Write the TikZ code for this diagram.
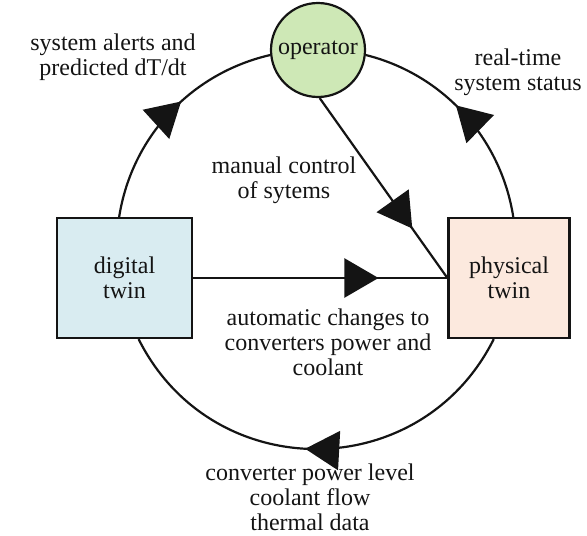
\documentclass[tikz,border=0pt]{standalone}
\usepackage{fontspec}
\setmainfont{Liberation Serif}
\usetikzlibrary{arrows.meta,decorations.markings}
\definecolor{opgreen}{RGB}{206,232,182}
\definecolor{dtblue}{RGB}{217,236,241}
\definecolor{ptpeach}{RGB}{252,233,222}
\definecolor{ink}{RGB}{20,20,20}
\begin{document}
\begin{tikzpicture}[x=1pt,y=1pt,
  txt/.style={font=\fontsize{24}{25}\selectfont,text=ink},
  lbl/.style={txt,align=center,inner sep=0pt},
  box/.style={txt,draw=ink,line width=2.2pt,inner sep=0pt,align=center},
  flow/.style={draw=ink,line width=2.2pt,postaction={decorate},
    decoration={markings,mark=at position #1 with {\arrow[ink]{Triangle[length=34pt,width=39pt]}}}}
]
\useasboundingbox (0,0) rectangle (587,-536);

% actors
\node[txt,circle,draw=ink,line width=2.2pt,fill=opgreen,minimum size=94pt,inner sep=0pt] (op) at (318,-50) {operator};
\node[box,fill=dtblue,minimum width=135pt,minimum height=120pt] (dt) at (124.5,-278) {digital\\twin};
\node[box,fill=ptpeach,minimum width=121pt,minimum height=120pt] (pt) at (509,-278) {physical\\twin};

% loop of information flows, each a circular arc
\draw[flow=0.568] (dt.95) to[out=81.05,in=193,distance=81.2pt] (op.186);
\draw[flow=0.55] (pt.86) to[out=98.94,in=-14.1,distance=79.9pt] (op.-6);
\draw[flow=0.525] (pt.256) to[out=-116.57,in=-63.43,distance=163.9pt] (dt.283);

% direct control paths
\draw[flow=0.729] (dt.east) -- (pt.west);
\draw[flow=0.725] (op.-88) -- (pt.west);

% edge labels
\node[lbl] (l1) at (113,-57.5) {system alerts and\\predicted dT/dt};
\node[lbl] (l2) at (518,-72.5) {real-time\\system status};
\node[lbl] (l3) at (284,-180.5) {manual control\\of sytems};
\node[lbl] (l4) at (328,-342) {automatic changes to\\converters power and\\coolant};
\node[lbl] (l5) at (310,-497) {converter power level\\coolant flow\\thermal data};
\end{tikzpicture}
\end{document}
